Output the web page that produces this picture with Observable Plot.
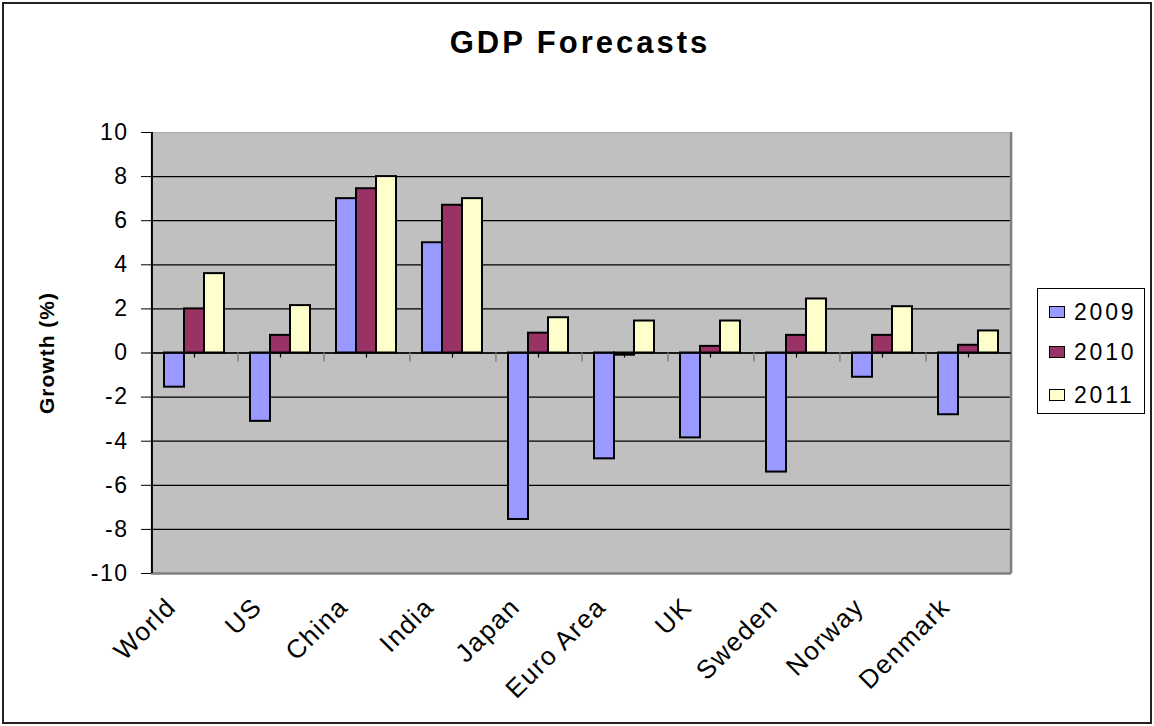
<!DOCTYPE html>
<html>
<head>
<meta charset="utf-8">
<script src="https://cdn.jsdelivr.net/npm/d3@7"></script>
<script src="https://cdn.jsdelivr.net/npm/@observablehq/plot@0.6"></script>
<style>
  html, body { margin: 0; padding: 0; background: #fff; }
  #chart { position: relative; width: 1154px; height: 726px; overflow: hidden;
           font-family: "Liberation Sans", Arial, sans-serif; }
  #chart svg { position: absolute; left: 0; top: 0; }
  #chart svg text { letter-spacing: 1.5px; }
  #chart svg [aria-label="y-axis tick label"] text { font-size: 23px !important; letter-spacing: 1.5px; }
  #chart svg [aria-label="y-axis label"] text { font-weight: bold; font-size: 21px; letter-spacing: 1px; }
  .border { position: absolute; left: 2px; top: 2px; width: 1146px; height: 718px;
            border: 2px solid #222; pointer-events: none; }
  .title { position: absolute; left: 0; width: 1160px; top: 25px; text-align: center;
           font-weight: bold; font-size: 31px; letter-spacing: 3px; color: #000; }
  .legend { position: absolute; left: 1037px; top: 288px; width: 106px; height: 124px;
            border: 1px solid #000; background: #fff; }
  .legend .row { position: absolute; left: 11px; height: 28px; display: flex; align-items: center;
                 font-size: 23px; letter-spacing: 2.8px; color: #000; }
  .legend .sw { width: 14px; height: 10px; border: 1px solid #000; margin-right: 9px; }
</style>
</head>
<body>
<div id="chart"></div>
<script>
// GDP growth forecasts (%) by economy for 2009–2011
const countries = ["World", "US", "China", "India", "Japan", "Euro Area", "UK", "Sweden", "Norway", "Denmark"];
const years = ["2009", "2010", "2011"];
const growth2009 = [-1.55, -3.1, 7.0, 5.0, -7.55, -4.8, -3.85, -5.4, -1.1, -2.8];
const growth2010 = [2.0, 0.8, 7.45, 6.7, 0.9, -0.1, 0.3, 0.8, 0.8, 0.35];
const growth2011 = [3.6, 2.15, 8.0, 7.0, 1.6, 1.45, 1.45, 2.45, 2.1, 1.0];
const yearColors = ["#9999FF", "#993366", "#FFFFCC"];
const yTicks = [-10, -8, -6, -4, -2, 0, 2, 4, 6, 8, 10];

const series = [growth2009, growth2010, growth2011];
const data = countries.flatMap((country, i) =>
  years.map((year, j) => ({country, year, value: series[j][i]}))
);

// layout
const W = 1154, H = 726;
const mL = 150, mR = 142, mT = 132, mB = 153;
const xPadOuter = 0.6;                       // gap between country groups
const catW = (W - mL - mR) / countries.length;
const step = catW / (years.length + 2 * xPadOuter);
const edge = step * (0.5 + xPadOuter);      // from outer bar centre to group edge
const zeroY = mT + (H - mT - mB) / 2;
const plotBottom = H - mB;

const chart = Plot.plot({
  width: W,
  height: H,
  marginLeft: mL,
  marginRight: mR,
  marginTop: mT,
  marginBottom: mB,
  style: {fontFamily: '"Liberation Sans", Arial, sans-serif', fontSize: "23px", color: "#000", background: "transparent"},
  fx: {domain: countries, padding: 0, axis: null},
  x: {domain: years, paddingInner: 0, paddingOuter: xPadOuter, axis: null},
  y: {domain: [-10, 10], axis: null},
  color: {domain: years, range: yearColors},
  marks: [
    // plot area
    Plot.frame({fill: "#C0C0C0", stroke: "none", insetLeft: -0.6, insetRight: -0.6}),
    Plot.ruleY(yTicks.filter(t => t > -10 && t < 10), {stroke: "#000", strokeWidth: 1.2}),
    Plot.ruleY([10], {stroke: "#a8a8a8", strokeWidth: 1}),
    Plot.ruleY([-10], {stroke: "#808080", strokeWidth: 2.5}),
    Plot.tickX([countries[countries.length - 1]], {fx: d => d, x: () => years[years.length - 1], dx: edge, stroke: "#808080", strokeWidth: 2.5}),
    // bars
    Plot.barY(data, {fx: "country", x: "year", y: "value", fill: "year", stroke: "#000", strokeWidth: 2, inset: 0}),
    // category axis along zero
    Plot.ruleY([0], {stroke: "#000", strokeWidth: 1.5}),
    Plot.tickX(countries, {fx: d => d, x: () => years[1], stroke: "#000", strokeWidth: 1.2,
      insetTop: zeroY - mT, insetBottom: plotBottom - zeroY - 5}),
    Plot.tickX(countries.slice(1), {fx: d => d, x: () => years[0], dx: -edge, stroke: "#808080", strokeWidth: 1.5,
      insetTop: zeroY - mT, insetBottom: plotBottom - zeroY - 9}),
    // value axis
    Plot.tickX([countries[0]], {fx: d => d, x: () => years[0], dx: -edge, stroke: "#000", strokeWidth: 2}),
    Plot.axisY({ticks: yTicks, tickSize: 10, tickPadding: 13, tickFormat: d => String(d), fontSize: 23,
      label: null}),
    Plot.axisY({ticks: [], tickSize: 0, label: "Growth (%)", labelAnchor: "center", labelArrow: "none", labelOffset: 112}),
    // category labels
    Plot.text(countries, {fx: d => d, text: d => d, frameAnchor: "bottom", rotate: -45,
      textAnchor: "end", dx: -17, dy: 35, fontSize: 26})
  ]
});

const root = document.getElementById("chart");
root.appendChild(chart);

const title = document.createElement("div");
title.className = "title";
title.textContent = "GDP Forecasts";
root.appendChild(title);

// legend
const legend = document.createElement("div");
legend.className = "legend";
const rowTops = [9, 49, 92];
years.forEach((y, i) => {
  const row = document.createElement("div");
  row.className = "row";
  row.style.top = rowTops[i] + "px";
  const sw = document.createElement("span");
  sw.className = "sw";
  sw.style.background = yearColors[i];
  row.appendChild(sw);
  row.appendChild(document.createTextNode(y));
  legend.appendChild(row);
});
root.appendChild(legend);

const border = document.createElement("div");
border.className = "border";
root.appendChild(border);
</script>
</body>
</html>
